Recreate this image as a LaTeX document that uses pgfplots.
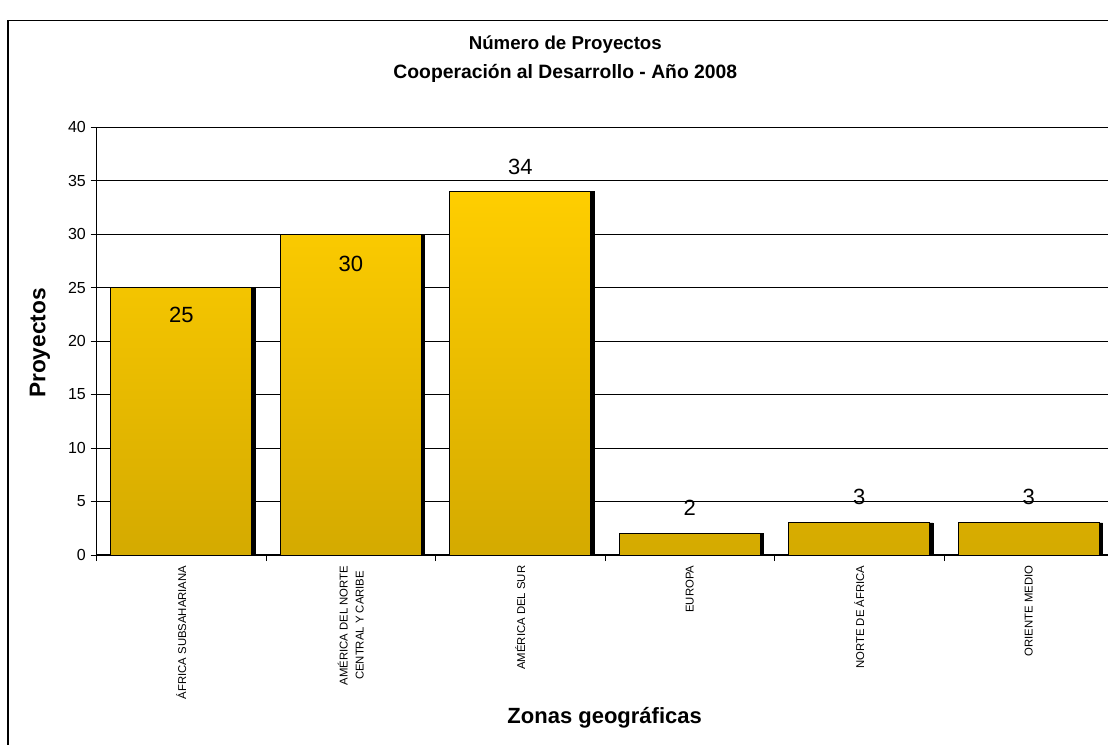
\documentclass[border=0pt]{standalone}
\usepackage{fontspec}
\setmainfont{Liberation Sans}
\usepackage{pgfplots}
\pgfplotsset{compat=1.18}
\definecolor{bartop}{RGB}{255,206,0}
\definecolor{barbot}{RGB}{212,170,0}

\begin{document}
\begin{tikzpicture}[x=1pt,y=1pt]
\useasboundingbox (0,0) rectangle (831,558);
\clip (0,0) rectangle (831,558);
\draw[line width=1.1pt] (6,-20) rectangle (850,542.5);
\begin{axis}[
  at={(72.4pt,141.75pt)}, anchor=south west,
  scale only axis, width=762.75pt, height=321pt,
  xmin=-0.5, xmax=5.5, ymin=0, ymax=40,
  ytick={0,5,...,40},
  ymajorgrids, grid style={black, line width=0.6pt},
  axis lines*=left,
  axis line style={black, line width=0.8pt},
  tick align=outside, major tick length=4.5pt,
  tick style={black, line width=0.6pt},
  xtick={-0.5,0.5,...,5.5},
  x tick label as interval,
  xticklabels={ÁFRICA SUBSAHARIANA,{AMÉRICA DEL NORTE\\CENTRAL Y CARIBE},AMÉRICA DEL SUR,EUROPA,NORTE DE ÁFRICA,ORIENTE MEDIO},
  xticklabel style={rotate=90, anchor=east, align=center, font=\fontsize{8.5}{12}\selectfont},
  yticklabel style={font=\fontsize{12}{14}\selectfont},
  /pgf/number format/assume math mode=true,
]
\addplot[ybar, bar width=105.75pt, bar shift=2.5pt, fill=black, draw=black]
  coordinates {(0,25) (1,30) (2,34) (3,2) (4,3) (5,3)};
\addplot[ybar, bar width=105.75pt, bar shift=0pt, draw=black, line width=0.7pt, top color=bartop, bottom color=barbot]
  coordinates {(0,25) (1,30) (2,34) (3,2) (4,3) (5,3)};
\begin{scope}[every node/.style={font=\fontsize{16.5}{17}\selectfont}]
\node at (axis cs:0,22.4) {25};
\node at (axis cs:1,27.2) {30};
\node at (axis cs:2,36.3) {34};
\node at (axis cs:3,4.4) {2};
\node at (axis cs:4,5.4) {3};
\node at (axis cs:5,5.4) {3};
\end{scope}
\end{axis}
\node[font=\bfseries\fontsize{14}{16}\selectfont] at (424,524.25) {Número de Proyectos};
\node[font=\bfseries\fontsize{14.5}{16}\selectfont] at (424,503.25) {Cooperación al Desarrollo - Año 2008};
\node[font=\bfseries\fontsize{16.5}{18}\selectfont] at (453.5,19.5) {Zonas geográficas};
\node[font=\bfseries\fontsize{17}{18}\selectfont, rotate=90] at (30,300.75) {Proyectos};
\end{tikzpicture}
\end{document}
